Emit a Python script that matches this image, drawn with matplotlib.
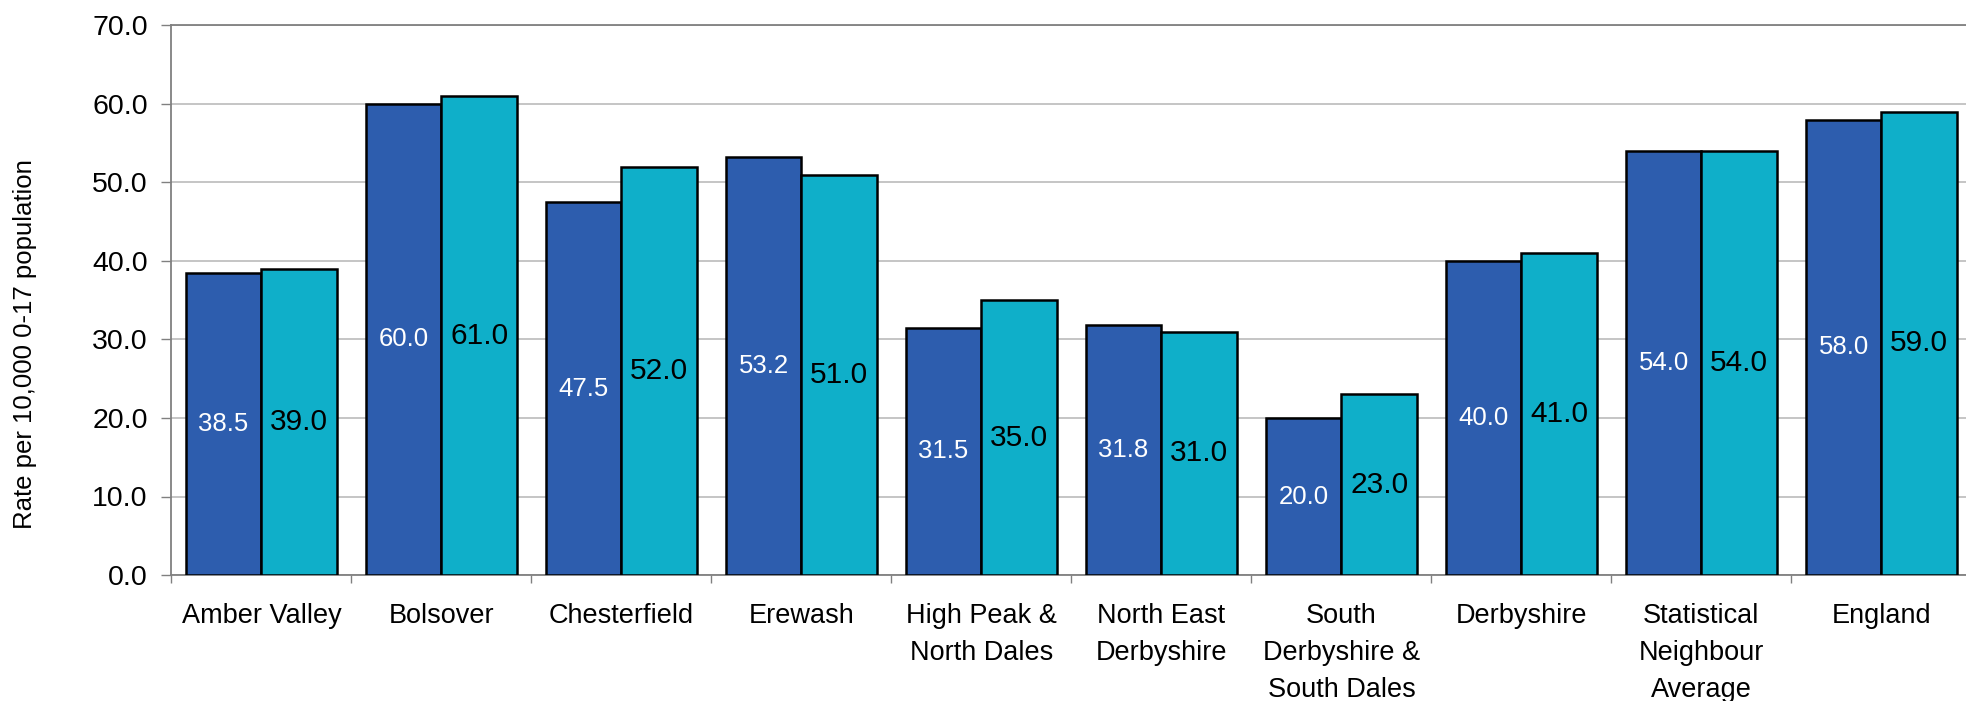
import matplotlib
matplotlib.use("Agg")
import matplotlib.pyplot as plt
import numpy as np

categories = ["Amber Valley", "Bolsover", "Chesterfield", "Erewash",
              "High Peak &\nNorth Dales", "North East\nDerbyshire",
              "South\nDerbyshire &\nSouth Dales", "Derbyshire",
              "Statistical\nNeighbour\nAverage", "England"]
series_a = [38.5, 60.0, 47.5, 53.2, 31.5, 31.8, 20.0, 40.0, 54.0, 58.0]
series_b = [39.0, 61.0, 52.0, 51.0, 35.0, 31.0, 23.0, 41.0, 54.0, 59.0]
yticks = [0, 10, 20, 30, 40, 50, 60, 70]

plt.rcParams['font.family'] = ['Liberation Sans', 'DejaVu Sans']

fig = plt.figure(figsize=(19.66, 7.01), dpi=100)
ax = fig.add_axes([171.4 / 1966, (701 - 575) / 701, 1800 / 1966, 549.5 / 701])

x = np.arange(len(categories))
w = 0.42
col_a = "#2D5DAE"
col_b = "#0FAFC9"
ax.bar(x - w / 2, series_a, width=w, color=col_a, edgecolor="black", linewidth=1.8, zorder=3)
ax.bar(x + w / 2, series_b, width=w, color=col_b, edgecolor="black", linewidth=1.8, zorder=3)

for xi, v in zip(x, series_a):
    ax.text(xi - w / 2, v / 2, f"{v:.1f}", ha="center", va="center", color="white", fontsize=18.5, zorder=4)
for xi, v in zip(x, series_b):
    ax.text(xi + w / 2, v / 2, f"{v:.1f}", ha="center", va="center", color="black", fontsize=21.5, zorder=4)

ax.set_xlim(-0.5, len(categories) - 0.5)
ax.set_ylim(0, 70)
ax.set_yticks(yticks)
ax.set_yticklabels([f"{t:.1f}" for t in yticks], fontsize=20.5)
ax.yaxis.grid(True, color="#BBBBBB", linewidth=1.2, zorder=0)
ax.tick_params(axis="y", length=7, width=1, color="#808080", pad=10)

ax.set_xticks(np.arange(len(categories) + 1) - 0.5)
ax.set_xticklabels([])
ax.tick_params(axis="x", which="major", length=5.5, width=1, color="#808080")
ax.set_xticks(x, minor=True)
ax.set_xticklabels(categories, minor=True, fontsize=19.5, linespacing=1.55, va="top")
ax.tick_params(axis="x", which="minor", length=0, pad=20)

for s in ["left", "bottom", "top"]:
    ax.spines[s].set_color("#808080")
    ax.spines[s].set_linewidth(1.3)
ax.spines["right"].set_visible(False)

ax.set_ylabel("Rate per 10,000 0-17 population", fontsize=18.5)
ax.yaxis.set_label_coords(-(171.4 - 37) / 1800, 0.42)

fig.savefig("out.png", dpi=100)
